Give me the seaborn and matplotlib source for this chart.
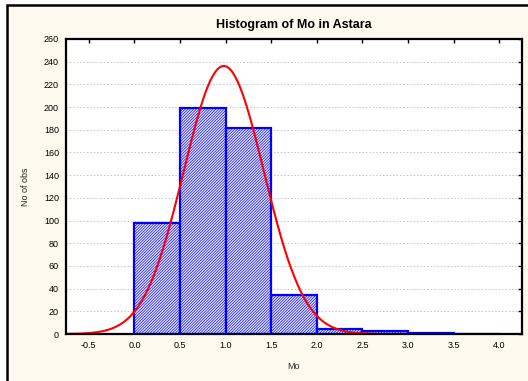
import numpy as np
import pandas as pd
import matplotlib
matplotlib.use("Agg")
import matplotlib.pyplot as plt
import seaborn as sns
from matplotlib.patches import Rectangle

# Histogram data
bin_edges = [0.0, 0.5, 1.0, 1.5, 2.0, 2.5, 3.0, 3.5, 4.0]
counts = [98, 199, 182, 34, 4, 3, 1, 0]
x_ticks = [-0.5, 0.0, 0.5, 1.0, 1.5, 2.0, 2.5, 3.0, 3.5, 4.0]
y_ticks = list(range(0, 261, 20))

# Expected normal fit parameters (estimated)
fit_mean = 0.98
fit_sd = 0.44

sns.set_style("white")
plt.rcParams["font.family"] = ["Liberation Sans", "DejaVu Sans"]
plt.rcParams["hatch.linewidth"] = 0.5

centers = [(a + b) / 2 for a, b in zip(bin_edges[:-1], bin_edges[1:])]
df = pd.DataFrame({"Mo": centers, "n": counts})

fig = plt.figure(figsize=(5.28, 3.81), dpi=100, facecolor="white")
# cream panel with black frame (cut off at right/bottom)
fig.patches.append(Rectangle((7 / 528, -0.05), 1.2, 1 - 5 / 381 + 0.05,
                             transform=fig.transFigure, facecolor="#fdf9ee",
                             edgecolor="black", linewidth=1.8, zorder=-5))
ax = fig.add_axes([66 / 528, 1 - 334 / 381, (522 - 66) / 528, (334 - 39) / 381])
ax.set_facecolor("white")

sns.histplot(data=df, x="Mo", weights="n", bins=bin_edges, ax=ax,
             color="white", edgecolor="#0000ff", linewidth=1.6, alpha=1)
for p in ax.patches:
    p.set_hatch("/" * 12)
    p.set_facecolor("#eeeeff")
    p.set_edgecolor("#0000ff")

# expected normal curve
n_total = sum(counts)
width = bin_edges[1] - bin_edges[0]
xs = np.linspace(-0.75, 4.25, 400)
ys = n_total * width / (fit_sd * np.sqrt(2 * np.pi)) * np.exp(-0.5 * ((xs - fit_mean) / fit_sd) ** 2)
sns.lineplot(x=xs, y=ys, color="red", linewidth=1.5, ax=ax)

ax.set_xlim(-0.75, 4.25)
ax.set_ylim(0, 260)
ax.set_xticks(x_ticks)
ax.set_xticklabels([f"{v:.1f}" for v in x_ticks])
ax.set_yticks(y_ticks)
ax.yaxis.grid(True, linestyle=(0, (1.5, 2)), color="#c4c4c4", linewidth=0.7)
ax.xaxis.grid(False)
ax.set_axisbelow(True)
ax.tick_params(direction="in", length=3, width=1, top=True, right=True,
               labelsize=6.5, pad=5, colors="black")
for s in ax.spines.values():
    s.set_linewidth(1.6)
    s.set_color("black")
    s.set_visible(True)

ax.set_title("Histogram of Mo in Astara", fontsize=9, fontweight="bold", pad=8, color="black")
ax.set_xlabel("Mo", fontsize=6.5, labelpad=9)
ax.set_ylabel("No of obs", fontsize=6.5, labelpad=10)

fig.savefig("out.png", dpi=100, facecolor=fig.get_facecolor())
